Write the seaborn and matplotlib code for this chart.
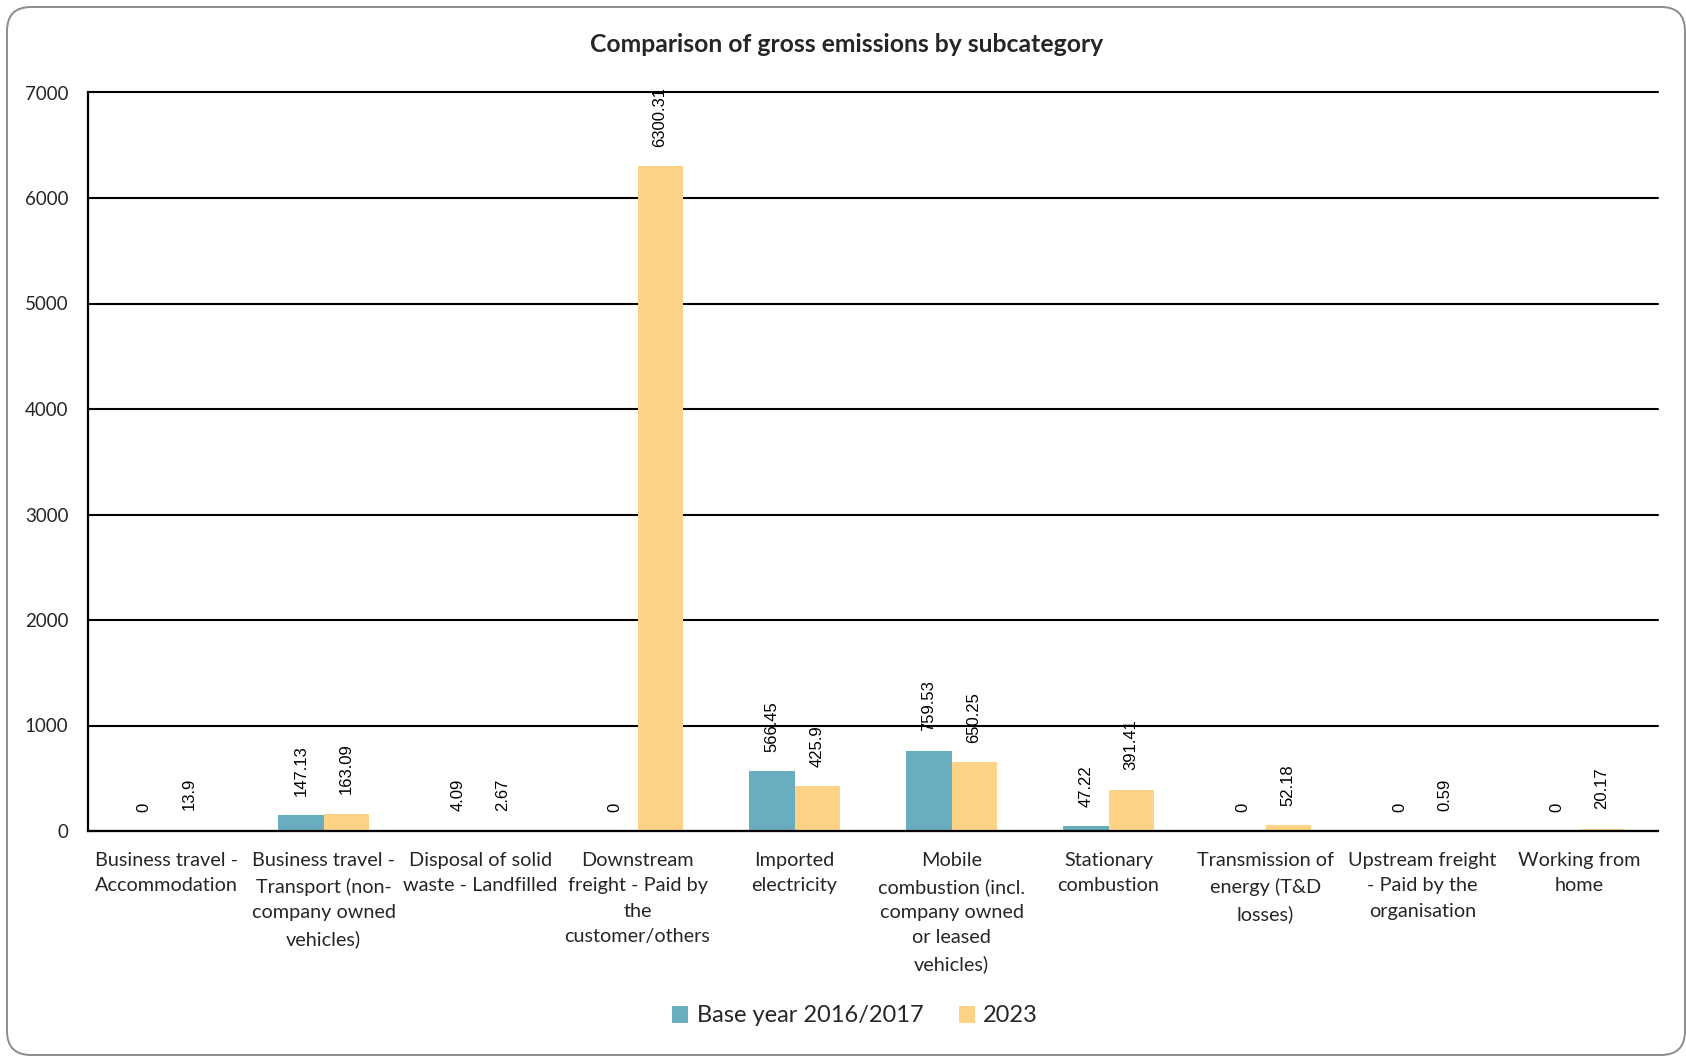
import matplotlib
matplotlib.use("Agg")
import matplotlib.pyplot as plt
from matplotlib.patches import FancyBboxPatch
from matplotlib.transforms import IdentityTransform
import seaborn as sns
import pandas as pd

categories = [
    "Business travel - Accommodation",
    "Business travel - Transport (non-company owned vehicles)",
    "Disposal of solid waste - Landfilled",
    "Downstream freight - Paid by the customer/others",
    "Imported electricity",
    "Mobile combustion (incl. company owned or leased vehicles)",
    "Stationary combustion",
    "Transmission of energy (T&D losses)",
    "Upstream freight - Paid by the organisation",
    "Working from home",
]
tick_labels = [
    "Business travel -\nAccommodation",
    "Business travel -\nTransport (non-\ncompany owned\nvehicles)",
    "Disposal of solid\nwaste - Landfilled",
    "Downstream\nfreight - Paid by\nthe\ncustomer/others",
    "Imported\nelectricity",
    "Mobile\ncombustion (incl.\ncompany owned\nor leased\nvehicles)",
    "Stationary\ncombustion",
    "Transmission of\nenergy (T&D\nlosses)",
    "Upstream freight\n- Paid by the\norganisation",
    "Working from\nhome",
]
series_names = ["Base year 2016/2017", "2023"]
base_year = [0, 147.13, 4.09, 0, 566.45, 759.53, 47.22, 0, 0, 0]
year_2023 = [13.9, 163.09, 2.67, 6300.31, 425.9, 650.25, 391.41, 52.18, 0.59, 20.17]
y_ticks = [0, 1000, 2000, 3000, 4000, 5000, 6000, 7000]
colors = ["#6AADBF", "#FFD386"]

df = pd.DataFrame({
    "Category": categories * 2,
    "Series": [series_names[0]] * len(categories) + [series_names[1]] * len(categories),
    "Value": base_year + year_2023,
})

sns.set_theme(style="white")
plt.rcParams["font.family"] = ["Lato", "DejaVu Sans"]

W, H = 1686, 1056
fig = plt.figure(figsize=(W / 100, H / 100), dpi=100)
fig.patch.set_facecolor("white")
ax = fig.add_axes([88 / W, 1 - 831 / H, (1658 - 88) / W, (831 - 92.5) / H])

sns.barplot(data=df, x="Category", y="Value", hue="Series", order=categories,
            hue_order=series_names, palette=colors, width=0.575, gap=0,
            saturation=1, edgecolor="none", linewidth=0, ax=ax)

ax.set_ylim(0, 7000)
ax.set_xlim(-0.5, len(categories) - 0.5)
ax.set_yticks(y_ticks)
ax.set_yticklabels([str(t) for t in y_ticks], fontsize=13.5)
ax.set_xticks(range(len(categories)))
ax.set_xticklabels(tick_labels, fontsize=14.3, linespacing=1.6, va="top")
ax.set_xticks([i - 0.5 for i in range(len(categories) + 1)], minor=True)
ax.tick_params(axis="x", which="major", length=0, pad=15)
ax.tick_params(axis="x", which="minor", length=7, width=1.5, color="black", direction="out")
ax.tick_params(axis="y", which="major", length=6, width=1.5, color="black", direction="out", pad=8)
ax.set_xlabel("")
ax.set_ylabel("")
ax.set_axisbelow(True)
ax.yaxis.grid(True, color="black", linewidth=1.5)
for gl in ax.get_ygridlines():
    gl.set_clip_on(False)
ax.xaxis.grid(False)
for s in ["top", "right"]:
    ax.spines[s].set_visible(False)
for s in ["left", "bottom"]:
    ax.spines[s].set_color("black")
    ax.spines[s].set_linewidth(1.6)
ax.spines["bottom"].set_zorder(5)

for cont, vals in zip(ax.containers, [base_year, year_2023]):
    ax.bar_label(cont, labels=[f"{v:g}" for v in vals], rotation=90, padding=14,
                 fontsize=12, family="Liberation Sans", color="black")

handles, labels = ax.get_legend_handles_labels()
ax.legend(handles, labels, loc="center", bbox_to_anchor=(855 / W, 1 - 1016 / H),
          bbox_transform=fig.transFigure, ncol=2, frameon=False, fontsize=17,
          handlelength=0.7, handleheight=0.7, handletextpad=0.35, columnspacing=1.5)

fig.text(847 / W, 1 - 44 / H, "Comparison of gross emissions by subcategory",
         ha="center", va="center", fontsize=17.8, fontweight="bold")

fig.add_artist(FancyBboxPatch((7, 1), 1678, 1048,
                              boxstyle="round,pad=0,rounding_size=24",
                              transform=IdentityTransform(), facecolor="none",
                              edgecolor="#8C8C8C", linewidth=1.4))

fig.savefig("out.png", dpi=100)
